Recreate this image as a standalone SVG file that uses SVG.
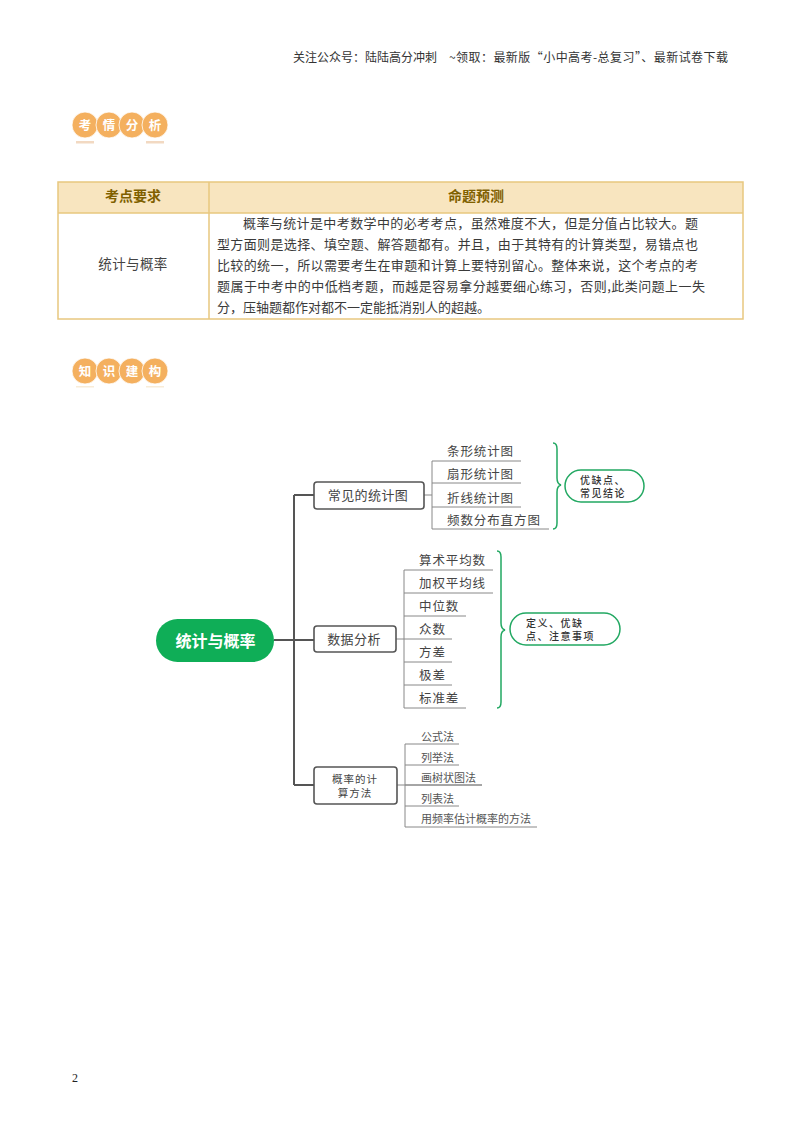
<svg xmlns="http://www.w3.org/2000/svg" width="800" height="1132" viewBox="0 0 800 1132">
<style>
text{font-family:"Noto Sans CJK SC","Liberation Sans",sans-serif;fill:#333}
.hd{font-size:14px;font-weight:700;fill:#7f6000;text-anchor:middle}
.body{font-size:13px;fill:#3a3a3a}
.b1{font-size:13px;text-anchor:middle;fill:#444;letter-spacing:.4px}
.l1{font-size:12.5px;fill:#444;letter-spacing:.9px}
.l2{font-size:11px;fill:#555}
.g{font-size:10px;font-weight:500;fill:#333;letter-spacing:1.5px}
.badge circle{fill:#f4b05f;stroke:#fff;stroke-width:.8}
.badge text{font-size:12.5px;font-weight:700;fill:#fff;text-anchor:middle}
.bx{fill:#fff;stroke:#555;stroke-width:1.6}
.trunk{fill:none;stroke:#555;stroke-width:2}
.thin{fill:none;stroke:#888;stroke-width:1}
.green{fill:none;stroke:#22a862;stroke-width:1.5}
.cell{stroke:#e8c77f;stroke-width:1.5}
</style>
<text x="293" y="62" font-size="12" textLength="144" lengthAdjust="spacing">关注公众号：陆陆高分冲刺</text>
<text x="449" y="62" font-size="12" textLength="279" lengthAdjust="spacing">~领取：最新版“小中高考-总复习”、最新试卷下载</text>
<g id="badge1" class="badge">
<rect x="76" y="141" width="18" height="2.500" fill="#f2d9c2"/><rect x="146" y="141" width="18" height="2.500" fill="#f2d9c2"/>
<circle cx="85" cy="125" r="13"/><circle cx="109" cy="125" r="13"/><circle cx="132" cy="125" r="13"/><circle cx="155" cy="125" r="13"/>
<text x="85" y="130">考</text><text x="109" y="130">情</text><text x="132" y="130">分</text><text x="155" y="130">析</text>
</g>
<g id="table">
<rect x="58" y="182" width="685" height="31" fill="#f8e5bf"/>
<rect x="58" y="182" width="685" height="137" fill="none" class="cell"/>
<path d="M58 213H743M209 182V319" class="cell" fill="none"/>
<text x="133" y="201" class="hd">考点要求</text>
<text x="476" y="201" class="hd">命题预测</text>
<text x="133" y="269" class="b1" style="font-size:13.5px">统计与概率</text>
<text x="243" y="228" class="body" textLength="455" lengthAdjust="spacing">概率与统计是中考数学中的必考考点，虽然难度不大，但是分值占比较大。题</text>
<text x="217" y="249" class="body" textLength="481" lengthAdjust="spacing">型方面则是选择、填空题、解答题都有。并且，由于其特有的计算类型，易错点也</text>
<text x="217" y="270" class="body" textLength="481" lengthAdjust="spacing">比较的统一，所以需要考生在审题和计算上要特别留心。整体来说，这个考点的考</text>
<text x="217" y="291" class="body" textLength="488" lengthAdjust="spacing">题属于中考中的中低档考题，而越是容易拿分越要细心练习，否则,此类问题上一失</text>
<text x="217" y="312" class="body" textLength="273" lengthAdjust="spacing">分，压轴题都作对都不一定能抵消别人的超越。</text>
</g>
<g id="badge2" class="badge">
<rect x="76" y="386" width="18" height="1.500" fill="#f8ecd8"/><rect x="146" y="386" width="18" height="1.500" fill="#f8ecd8"/>
<circle cx="85" cy="371" r="13"/><circle cx="109" cy="371" r="13"/><circle cx="132" cy="371" r="13"/><circle cx="155" cy="371" r="13"/>
<text x="85" y="376">知</text><text x="109" y="376">识</text><text x="132" y="376">建</text><text x="155" y="376">构</text>
</g>
<g id="connectors">
<path class="trunk" d="M274 640H294M294 495V785M294 495H314M294 785H314M294 640H314"/>
<path class="thin" d="M423 495H432M432 461V529M432 461H521M432 483H521M432 507H521M432 529H549"/>
<path class="thin" d="M396 639H404M404 570V708M404 570H493M404 593H493M404 616H466M404 639H452M404 662H452M404 685H452M404 708H466"/>
<path class="thin" d="M397 785H482M405 744V827M405 744H459M405 765H459M405 785H482M405 806H459M405 827H537"/>
<path class="green" d="M553 443Q557 443 557 449V478Q557 484 561 485Q557 486 557 492V523Q557 529 553 529"/>
<path class="green" d="M497 551Q501 551 501 557V623Q501 629 505 630Q501 631 501 637V702Q501 708 497 708"/>
</g>
<g id="root"><rect x="156" y="619" width="118" height="43" rx="21.500" fill="#0fae57"/><text x="215.500" y="647" font-size="16" font-weight="700" text-anchor="middle" style="fill:#fff">统计与概率</text></g>
<g id="n1"><rect class="bx" x="314" y="482" width="110" height="27" rx="3"/><text x="368" y="500" class="b1">常见的统计图</text></g>
<g id="n2"><rect class="bx" x="314" y="626" width="82" height="26" rx="3"/><text x="354" y="644" class="b1">数据分析</text></g>
<g id="n3"><rect class="bx" x="314" y="767" width="83" height="37" rx="3"/><text x="355" y="783" class="b1" style="font-size:10.5px;letter-spacing:1px">概率的计</text><text x="355" y="797" class="b1" style="font-size:10.5px;letter-spacing:1px">算方法</text></g>
<g id="n1items"><text x="447" y="456" class="l1">条形统计图</text><text x="447" y="479" class="l1">扇形统计图</text><text x="447" y="503" class="l1">折线统计图</text><text x="447" y="525" class="l1">频数分布直方图</text></g>
<g id="n2items"><text x="419" y="565" class="l1">算术平均数</text><text x="419" y="588" class="l1">加权平均线</text><text x="419" y="611" class="l1">中位数</text><text x="419" y="634" class="l1">众数</text><text x="419" y="657" class="l1">方差</text><text x="419" y="680" class="l1">极差</text><text x="419" y="703" class="l1">标准差</text></g>
<g id="n3items"><text x="421" y="741" class="l2">公式法</text><text x="421" y="762" class="l2">列举法</text><text x="421" y="782" class="l2">画树状图法</text><text x="421" y="803" class="l2">列表法</text><text x="421" y="823" class="l2">用频率估计概率的方法</text></g>
<g id="note1"><rect class="green" x="565" y="470" width="79" height="32" rx="16" fill="#fff"/><text x="580" y="484" class="g">优缺点、</text><text x="580" y="497" class="g">常见结论</text></g>
<g id="note2"><rect class="green" x="510" y="613" width="110" height="32" rx="16" fill="#fff"/><text x="526" y="627" class="g">定义、优缺</text><text x="526" y="640" class="g">点、注意事项</text></g>
<text x="72" y="1082" font-size="12" style="font-family:'Liberation Serif',serif;fill:#222">2</text>
</svg>
